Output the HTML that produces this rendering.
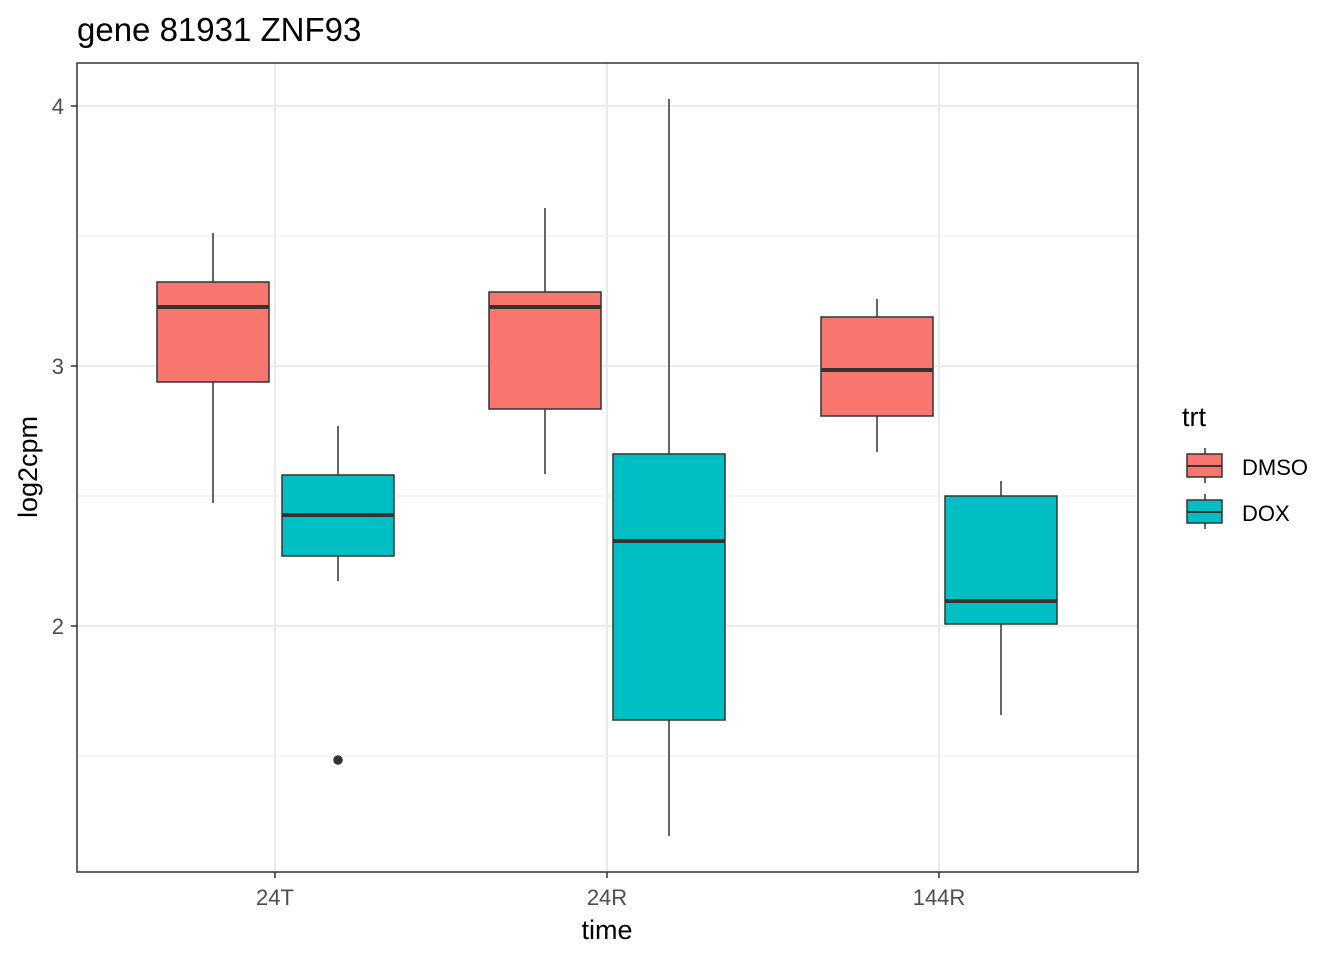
<!DOCTYPE html>
<html><head><style>body{margin:0;background:#fff}</style></head><body>
<svg width="1344" height="960" xmlns="http://www.w3.org/2000/svg" font-family="Liberation Sans, sans-serif">
<rect width="1344" height="960" fill="#fff"/>
<g stroke="#ebebeb" stroke-width="1">
<line x1="77" x2="1138" y1="236" y2="236"/><line x1="77" x2="1138" y1="496" y2="496"/><line x1="77" x2="1138" y1="756" y2="756"/>
</g>
<g stroke="#ebebeb" stroke-width="2">
<line x1="77" x2="1138" y1="106" y2="106"/><line x1="77" x2="1138" y1="366" y2="366"/><line x1="77" x2="1138" y1="626" y2="626"/>
<line x1="275" x2="275" y1="63" y2="872"/><line x1="607" x2="607" y1="63" y2="872"/><line x1="939" x2="939" y1="63" y2="872"/>
</g>
<g stroke="#333" stroke-width="1.5">
<line x1="213" x2="213" y1="233" y2="503"/>
<rect x="157" y="282" width="112" height="100" fill="#F8766D"/>
<line x1="157" x2="269" y1="307" y2="307" stroke-width="4"/>
<line x1="338" x2="338" y1="426" y2="581"/>
<rect x="282" y="475" width="112" height="81" fill="#00BFC4"/>
<line x1="282" x2="394" y1="515" y2="515" stroke-width="4"/>
<circle cx="338" cy="760" r="4" fill="#333"/>
<line x1="545" x2="545" y1="208" y2="474"/>
<rect x="489" y="292" width="112" height="117" fill="#F8766D"/>
<line x1="489" x2="601" y1="307" y2="307" stroke-width="4"/>
<line x1="669" x2="669" y1="99" y2="836"/>
<rect x="613" y="454" width="112" height="266" fill="#00BFC4"/>
<line x1="613" x2="725" y1="541" y2="541" stroke-width="4"/>
<line x1="877" x2="877" y1="299" y2="452"/>
<rect x="821" y="317" width="112" height="99" fill="#F8766D"/>
<line x1="821" x2="933" y1="370" y2="370" stroke-width="4"/>
<line x1="1001" x2="1001" y1="481" y2="715"/>
<rect x="945" y="496" width="112" height="128" fill="#00BFC4"/>
<line x1="945" x2="1057" y1="601" y2="601" stroke-width="4"/>
</g>
<rect x="77" y="63" width="1061" height="809" fill="none" stroke="#333" stroke-width="1.5"/>
<g stroke="#333" stroke-width="1.5">
<line x1="71" x2="77" y1="106" y2="106"/><line x1="71" x2="77" y1="366" y2="366"/><line x1="71" x2="77" y1="626" y2="626"/>
<line x1="275" x2="275" y1="872" y2="878"/><line x1="607" x2="607" y1="872" y2="878"/><line x1="939" x2="939" y1="872" y2="878"/>
</g>
<g font-size="22" fill="#4d4d4d" text-anchor="end">
<text x="64" y="114">4</text><text x="64" y="374">3</text><text x="64" y="634">2</text>
</g>
<g font-size="22" fill="#4d4d4d" text-anchor="middle">
<text x="275" y="905">24T</text><text x="607" y="905">24R</text><text x="939" y="905">144R</text>
</g>
<text x="607" y="939" font-size="27" text-anchor="middle">time</text>
<text transform="translate(37,467) rotate(-90)" font-size="27" text-anchor="middle">log2cpm</text>
<text x="77" y="41" font-size="33">gene 81931 ZNF93</text>
<text x="1182" y="426" font-size="27">trt</text>
<g stroke="#333" stroke-width="1.5">
<line x1="1205" x2="1205" y1="448" y2="483"/>
<rect x="1187" y="454" width="35" height="23" fill="#F8766D"/>
<line x1="1187" x2="1222" y1="466" y2="466" stroke-width="2"/>
<line x1="1205" x2="1205" y1="494" y2="529"/>
<rect x="1187" y="500" width="35" height="23" fill="#00BFC4"/>
<line x1="1187" x2="1222" y1="512" y2="512" stroke-width="2"/>
</g>
<text x="1242" y="475" font-size="22">DMSO</text>
<text x="1242" y="521" font-size="22">DOX</text>
</svg>
</body></html>
